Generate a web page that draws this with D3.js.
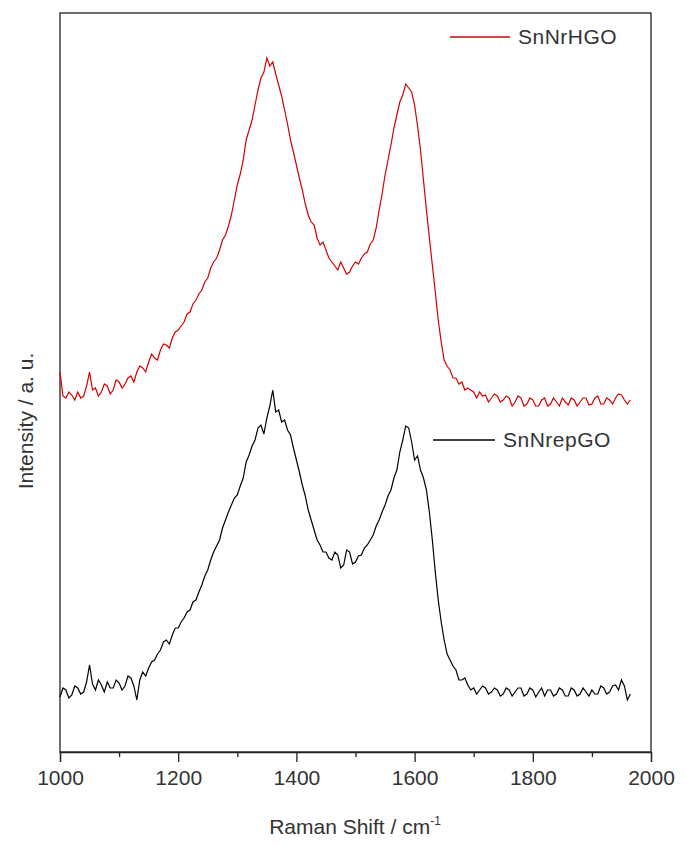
<!DOCTYPE html>
<html>
<head>
<meta charset="utf-8">
<script src="https://cdn.jsdelivr.net/npm/d3@7"></script>
<style>
  body { margin: 0; background: #fff; }
  text { font-family: "Liberation Sans", Arial, sans-serif; fill: #333; }
</style>
</head>
<body>
<script>
// Raman shift grid (cm-1), 5 cm-1 steps
const shift = d3.range(1000, 1970, 5)

// intensities (a.u.)
const snNrHGO = [
  380, 356, 354, 360, 357, 352, 360, 354, 356, 366,
  380, 362, 364, 356, 360, 368, 366, 358, 362, 372,
  370, 364, 368, 374, 376, 370, 380, 386, 384, 380,
  390, 398, 394, 392, 402, 408, 407, 404, 414, 420,
  422, 426, 430, 438, 440, 448, 452, 458, 462, 470,
  474, 484, 490, 494, 502, 512, 517, 526, 537, 552,
  567, 578, 592, 612, 622, 632, 647, 662, 674, 680,
  694, 686, 690, 678, 667, 656, 642, 628, 612, 600,
  587, 574, 562, 548, 537, 530, 527, 514, 507, 510,
  502, 494, 490, 486, 482, 490, 484, 478, 480, 486,
  490, 488, 494, 498, 500, 508, 512, 524, 542, 558,
  577, 592, 607, 624, 637, 650, 657, 668, 664, 660,
  647, 626, 602, 572, 542, 514, 487, 460, 432, 410,
  392, 386, 382, 374, 374, 368, 370, 362, 364, 362,
  360, 354, 360, 356, 357, 350, 354, 358, 356, 350,
  352, 356, 354, 346, 350, 356, 354, 346, 348, 354,
  352, 346, 346, 352, 354, 346, 348, 354, 350, 346,
  354, 350, 347, 354, 352, 346, 350, 354, 354, 347,
  348, 354, 356, 348, 348, 354, 352, 348, 354, 358,
  357, 352, 348, 352
]

const snNrepGO = [
  55, 64, 62, 54, 57, 66, 64, 58, 60, 70,
  87, 68, 62, 72, 67, 60, 70, 64, 64, 72,
  69, 62, 66, 76, 74, 66, 52, 72, 80, 76,
  84, 90, 92, 98, 102, 110, 112, 108, 117, 124,
  124, 130, 134, 140, 142, 150, 152, 160, 167, 176,
  182, 192, 200, 206, 212, 224, 232, 240, 247, 254,
  257, 266, 274, 290, 297, 306, 312, 324, 327, 318,
  334, 346, 362, 340, 342, 330, 332, 322, 317, 304,
  292, 280, 267, 256, 242, 232, 222, 212, 207, 200,
  200, 194, 192, 200, 197, 184, 187, 202, 200, 188,
  190, 196, 197, 204, 207, 212, 217, 226, 232, 240,
  247, 256, 262, 274, 282, 300, 312, 326, 324, 310,
  292, 296, 282, 274, 262, 240, 212, 180, 152, 130,
  112, 98, 92, 86, 82, 72, 72, 74, 67, 62,
  64, 58, 62, 66, 64, 58, 60, 64, 62, 56,
  58, 64, 62, 56, 60, 64, 64, 56, 58, 64,
  62, 55, 60, 64, 56, 62, 62, 56, 58, 64,
  62, 56, 56, 64, 62, 56, 58, 64, 60, 56,
  62, 58, 58, 66, 64, 58, 60, 66, 67, 62,
  72, 66, 52, 58
]

const series = [
  { name: 'SnNrHGO', values: snNrHGO, color: '#d40000' },
  { name: 'SnNrepGO', values: snNrepGO, color: '#000000' }
]

const xTicks = [1000, 1200, 1400, 1600, 1800, 2000]
const xMinor = [1100, 1300, 1500, 1700, 1900]

const width = 685
const height = 846
const margin = { top: 13, right: 34, bottom: 94, left: 60 }

const svg = d3.select('body').append('svg')
  .attr('width', width)
  .attr('height', height)

const x = d3.scaleLinear()
  .domain([1000, 2000])
  .range([margin.left, width - margin.right])

const y = d3.scaleLinear()
  .domain([0, 739])
  .range([height - margin.bottom, margin.top])

// frame
svg.append('rect')
  .attr('x', margin.left)
  .attr('y', margin.top)
  .attr('width', width - margin.left - margin.right)
  .attr('height', height - margin.top - margin.bottom)
  .style('fill', 'none')
  .style('stroke', '#222')
  .style('stroke-width', 1.3)

// x axis, major ticks
const xAxis = svg.append('g')
  .attr('transform', `translate(0, ${height - margin.bottom})`)
  .call(d3.axisBottom(x).tickValues(xTicks).tickSize(10).tickPadding(8).tickFormat(d3.format('d')))
xAxis.select('.domain').style('stroke', '#222').style('stroke-width', 1.3)
xAxis.selectAll('.tick line').style('stroke', '#222').style('stroke-width', 1.3)
xAxis.selectAll('text')
  .style('font-size', '21px')
  .style('fill', '#333')
  .style('font-family', '"Liberation Sans", Arial, sans-serif')

// minor ticks
svg.append('g')
  .attr('transform', `translate(0, ${height - margin.bottom})`)
  .call(d3.axisBottom(x).tickValues(xMinor).tickSize(5).tickFormat(''))
  .call(g => g.select('.domain').remove())
  .selectAll('.tick line').style('stroke', '#222').style('stroke-width', 1.3)

const line = d3.line()
  .x((d, i) => x(shift[i]))
  .y(d => y(d))

series.forEach(s => {
  svg.append('path')
    .datum(s.values)
    .attr('d', line)
    .style('fill', 'none')
    .style('stroke', s.color)
    .style('stroke-width', 1.2)
})

// legend labels beside each curve
const legend = [
  { s: series[0], x1: 450, x2: 510, y: 37 },
  { s: series[1], x1: 433, x2: 495, y: 440 }
]
legend.forEach(l => {
  svg.append('line')
    .attr('x1', l.x1).attr('x2', l.x2)
    .attr('y1', l.y).attr('y2', l.y)
    .style('stroke', l.s.color)
    .style('stroke-width', 1.3)
  svg.append('text')
    .attr('x', l.x2 + 8)
    .attr('y', l.y)
    .attr('dy', '0.35em')
    .style('font-size', '21px')
    .style('letter-spacing', '0.5px')
    .text(l.s.name)
})

// axis titles
const xt = svg.append('text')
  .attr('x', 355)
  .attr('y', 834)
  .attr('text-anchor', 'middle')
  .style('font-size', '21px')
xt.append('tspan').text('Raman Shift / cm')
xt.append('tspan').attr('dy', -9).style('font-size', '12px').text('-1')

svg.append('text')
  .attr('transform', 'translate(33, 421) rotate(-90)')
  .attr('text-anchor', 'middle')
  .style('font-size', '21px')
  .text('Intensity / a. u.')
</script>
</body>
</html>
